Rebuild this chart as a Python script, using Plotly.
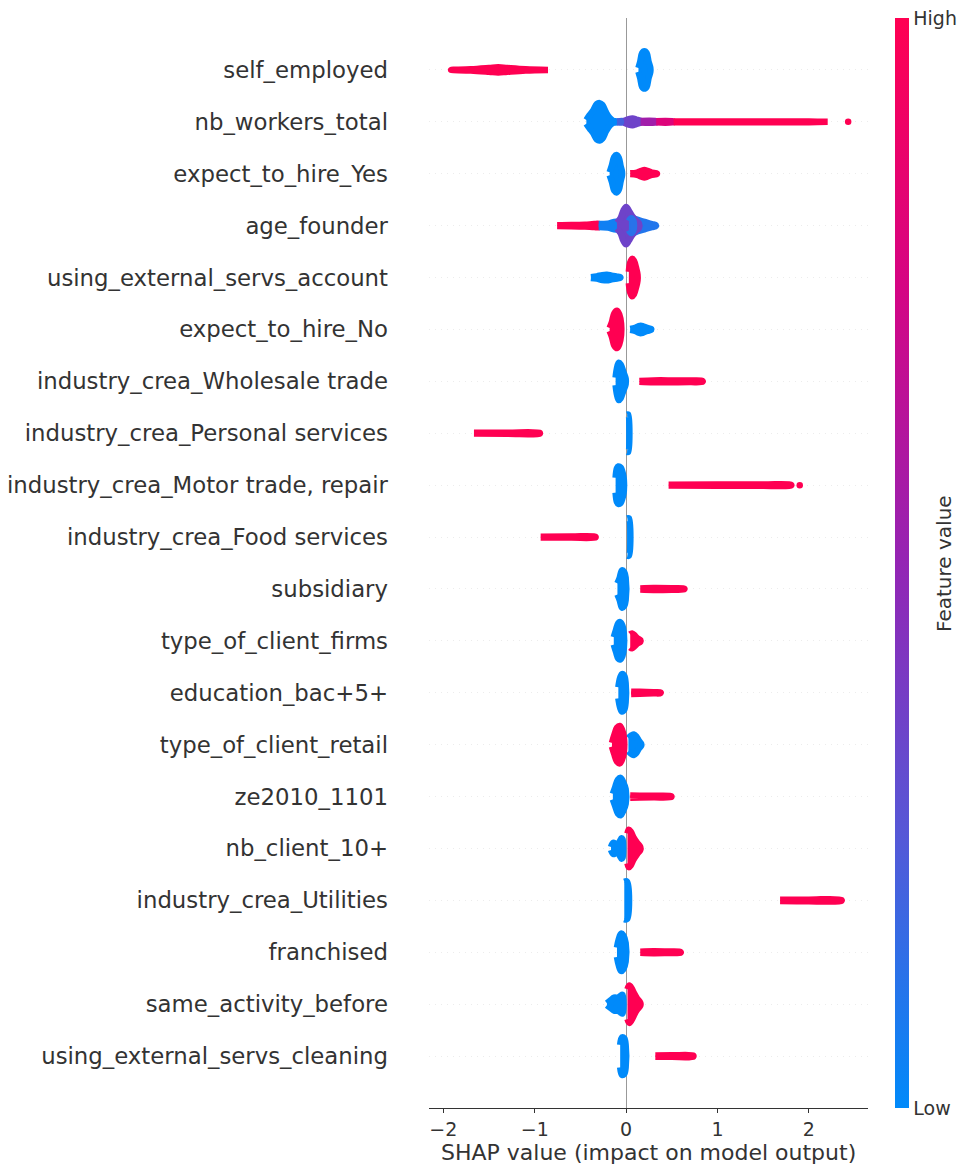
import plotly.graph_objects as go

# Features from most to least important (top to bottom)
FEATURES = [
    "self_employed",
    "nb_workers_total",
    "expect_to_hire_Yes",
    "age_founder",
    "using_external_servs_account",
    "expect_to_hire_No",
    "industry_crea_Wholesale trade",
    "industry_crea_Personal services",
    "industry_crea_Motor trade, repair",
    "industry_crea_Food services",
    "subsidiary",
    "type_of_client_firms",
    "education_bac+5+",
    "type_of_client_retail",
    "ze2010_1101",
    "nb_client_10+",
    "industry_crea_Utilities",
    "franchised",
    "same_activity_before",
    "using_external_servs_cleaning",
]

# Each group of samples: (feature value 0=low..1=high, SHAP values, relative density of samples)
SELF_EMPLOYED = [
    (1.0, [-1.915, -1.7, -1.5, -1.4, -1.3, -1.1, -0.855], [0, 0.03, 0.10, 0.14, 0.10, 0.03, 0]),
    (0.0, [0.135, 0.155, 0.175, 0.20, 0.225, 0.245, 0.265], [0.1, 0.45, 0.9, 1.0, 0.9, 0.45, 0.1]),
]
NB_WORKERS_TOTAL = [
    (0.0, [-0.435, -0.40, -0.36, -0.32, -0.29, -0.26, -0.22, -0.18, -0.14, -0.10],
          [0.1, 0.35, 0.6, 0.95, 1.0, 0.9, 0.5, 0.2, 0.05, 0.02]),
    (0.2, [-0.10, -0.02], [0.02, 0.03]),
    (0.35, [-0.02, 0.03, 0.07, 0.11, 0.16], [0.05, 0.15, 0.18, 0.12, 0.04]),
    (0.55, [0.16, 0.33], [0.04, 0.03]),
    (0.8, [0.33, 0.52], [0.03, 0.02]),
    (1.0, [0.52, 1.0, 1.5, 2.0, 2.205], [0.02, 0.02, 0.02, 0.02, 0]),
]
EXPECT_TO_HIRE_YES = [
    (0.0, [-0.18, -0.155, -0.13, -0.105, -0.08, -0.06, -0.045], [0.08, 0.45, 0.9, 1.0, 0.85, 0.4, 0.1]),
    (1.0, [0.045, 0.12, 0.17, 0.20, 0.23, 0.28, 0.335], [0.02, 0.06, 0.16, 0.2, 0.16, 0.06, 0.02]),
]
AGE_FOUNDER = [
    (1.0, [-0.755, -0.6, -0.45, -0.35, -0.3], [0.02, 0.03, 0.05, 0.08, 0.08]),
    (0.05, [-0.3, -0.2, -0.1], [0.08, 0.1, 0.2]),
    (0.1, [0.0, 0.1, 0.2, 0.28, 0.325], [0.6, 0.35, 0.2, 0.08, 0.02]),
    (0.35, [-0.1, -0.06, -0.03, 0.0, 0.03, 0.06, 0.1, 0.14], [0.15, 0.4, 0.8, 1.0, 0.8, 0.55, 0.3, 0.12]),
    (0.12, [0.03, 0.055, 0.08], [0.25, 0.4, 0.25]),
]
USING_EXTERNAL_SERVS_ACCOUNT = [
    (0.0, [-0.385, -0.32, -0.26, -0.21, -0.16, -0.1, -0.065], [0.02, 0.06, 0.13, 0.15, 0.1, 0.05, 0.02]),
    (1.0, [0.03, 0.045, 0.065, 0.085, 0.11, 0.125], [0.3, 0.8, 1.0, 0.9, 0.5, 0.15]),
]
EXPECT_TO_HIRE_NO = [
    (1.0, [-0.18, -0.155, -0.13, -0.1, -0.075, -0.055], [0.08, 0.4, 0.85, 1.0, 0.8, 0.3]),
    (0.0, [0.045, 0.1, 0.14, 0.16, 0.18, 0.23, 0.275], [0.02, 0.08, 0.18, 0.2, 0.18, 0.08, 0.02]),
]
WHOLESALE_TRADE = [
    (0.0, [-0.115, -0.1, -0.08, -0.06, -0.03, -0.005], [0.2, 0.7, 1.0, 0.9, 0.5, 0.15]),
    (1.0, [0.145, 0.3, 0.5, 0.7, 0.835], [0.02, 0.05, 0.05, 0.04, 0.02]),
]
PERSONAL_SERVICES = [
    (1.0, [-1.665, -1.3, -0.945], [0.02, 0.03, 0.02]),
    (0.0, [0.012, 0.022], [1.0, 1.0]),
]
MOTOR_TRADE = [
    (0.0, [-0.115, -0.1, -0.085, -0.06, -0.035, -0.025], [0.4, 0.9, 1.0, 0.95, 0.6, 0.3]),
    (1.0, [0.465, 1.0, 1.5, 1.805], [0.02, 0.03, 0.03, 0.02]),
]
FOOD_SERVICES = [
    (1.0, [-0.935, -0.6, -0.335], [0.02, 0.03, 0.02]),
    (0.0, [0.015, 0.03], [1.0, 1.0]),
]
SUBSIDIARY = [
    (0.0, [-0.095, -0.07, -0.045, -0.02, -0.005], [0.3, 0.6, 1.0, 0.9, 0.6]),
    (1.0, [0.155, 0.3, 0.5, 0.635], [0.03, 0.05, 0.04, 0.02]),
]
TYPE_OF_CLIENT_FIRMS = [
    (0.0, [-0.135, -0.11, -0.085, -0.065, -0.04, -0.025], [0.2, 0.6, 0.95, 1.0, 0.8, 0.4]),
    (1.0, [0.045, 0.065, 0.09, 0.12, 0.155], [0.35, 0.4, 0.3, 0.15, 0.05]),
]
EDUCATION_BAC5 = [
    (0.0, [-0.085, -0.065, -0.045, -0.02, -0.005], [0.3, 0.8, 1.0, 0.9, 0.5]),
    (1.0, [0.055, 0.15, 0.3, 0.375], [0.06, 0.05, 0.03, 0.02]),
]
TYPE_OF_CLIENT_RETAIL = [
    (0.0, [0.025, 0.06, 0.085, 0.11, 0.14, 0.165], [0.35, 0.5, 0.55, 0.45, 0.2, 0.05]),
    (1.0, [-0.155, -0.13, -0.1, -0.07, -0.045, -0.025], [0.1, 0.5, 0.9, 1.0, 0.8, 0.4]),
]
ZE2010_1101 = [
    (0.0, [-0.145, -0.12, -0.09, -0.06, -0.035, -0.005], [0.15, 0.5, 0.9, 1.0, 0.8, 0.4]),
    (1.0, [0.045, 0.15, 0.3, 0.495], [0.06, 0.05, 0.04, 0.02]),
]
NB_CLIENT_10 = [
    (0.0, [-0.165, -0.14, -0.11, -0.08, -0.05, -0.04], [0.08, 0.3, 0.25, 0.3, 0.55, 0.5]),
    (1.0, [0.015, 0.03, 0.05, 0.08, 0.12, 0.155], [0.8, 1.0, 0.9, 0.6, 0.3, 0.08]),
]
UTILITIES = [
    (0.0, [-0.02, 0.01], [1.0, 1.0]),
    (1.0, [1.685, 2.0, 2.355], [0.03, 0.04, 0.03]),
]
FRANCHISED = [
    (0.0, [-0.1, -0.08, -0.055, -0.03, -0.005], [0.25, 0.7, 1.0, 0.9, 0.5]),
    (1.0, [0.155, 0.3, 0.45, 0.595], [0.03, 0.05, 0.04, 0.02]),
]
SAME_ACTIVITY_BEFORE = [
    (0.0, [-0.21, -0.17, -0.13, -0.09, -0.06, -0.04], [0.05, 0.2, 0.35, 0.35, 0.45, 0.5]),
    (1.0, [0.015, 0.035, 0.06, 0.09, 0.12, 0.155], [0.8, 1.0, 0.85, 0.55, 0.3, 0.08]),
]
USING_EXTERNAL_SERVS_CLEANING = [
    (0.0, [-0.065, -0.045, -0.02, -0.005], [0.6, 1.0, 0.95, 0.6]),
    (1.0, [0.32, 0.5, 0.735], [0.03, 0.04, 0.03]),
]

GROUPS = [
    SELF_EMPLOYED, NB_WORKERS_TOTAL, EXPECT_TO_HIRE_YES, AGE_FOUNDER,
    USING_EXTERNAL_SERVS_ACCOUNT, EXPECT_TO_HIRE_NO, WHOLESALE_TRADE,
    PERSONAL_SERVICES, MOTOR_TRADE, FOOD_SERVICES, SUBSIDIARY,
    TYPE_OF_CLIENT_FIRMS, EDUCATION_BAC5, TYPE_OF_CLIENT_RETAIL, ZE2010_1101,
    NB_CLIENT_10, UTILITIES, FRANCHISED, SAME_ACTIVITY_BEFORE,
    USING_EXTERNAL_SERVS_CLEANING,
]

# Isolated outlier samples
OUTLIER_SHAP = [2.43, 1.90]
OUTLIER_FEATURE = ["nb_workers_total", "industry_crea_Motor trade, repair"]
OUTLIER_VALUE = [1.0, 1.0]

# Red-blue feature value colormap
COLORSCALE = [
    [0.0, "rgb(0,138,250)"],
    [0.25, "rgb(85,88,215)"],
    [0.5, "rgb(148,36,180)"],
    [0.75, "rgb(212,5,132)"],
    [1.0, "rgb(255,0,82)"],
]


def colour_at(v):
    stops = [(p, tuple(int(c) for c in s[4:-1].split(","))) for p, s in COLORSCALE]
    for (p0, c0), (p1, c1) in zip(stops[:-1], stops[1:]):
        if p0 <= v <= p1:
            t = (v - p0) / (p1 - p0)
            r, g, b = (round(a + (b_ - a) * t) for a, b_ in zip(c0, c1))
            return f"rgb({r},{g},{b})"
    return COLORSCALE[-1][1]


n = len(FEATURES)
row_of = {f: n - 1 - i for i, f in enumerate(FEATURES)}
HALF = 0.36    # max half-height of a swarm, in row units
DOT = 6.5      # sample marker diameter in px

fig = go.Figure()
for feat, groups in zip(FEATURES, GROUPS):
    pos = row_of[feat]
    for fval, xs, dens in groups:
        col = colour_at(fval)
        top = [pos + d * HALF for d in dens]
        bot = [pos - d * HALF for d in dens]
        fig.add_trace(go.Scatter(
            x=list(xs) + list(xs)[::-1],
            y=top + bot[::-1],
            mode="lines", fill="toself", fillcolor=col,
            line=dict(color=col, width=DOT, shape="spline", smoothing=1.0),
            hoverinfo="skip", showlegend=False,
        ))

fig.add_trace(go.Scatter(
    x=OUTLIER_SHAP,
    y=[row_of[f] for f in OUTLIER_FEATURE],
    mode="markers",
    marker=dict(
        size=DOT, color=OUTLIER_VALUE, colorscale=COLORSCALE, cmin=0, cmax=1,
        showscale=True,
        colorbar=dict(
            x=1.0615, xanchor="left", y=0.5, yanchor="middle",
            len=1, lenmode="fraction", thickness=14,
            xpad=0, ypad=0, outlinewidth=0,
            tickvals=[0, 1], ticktext=["Low", "High"], ticks="",
            tickfont=dict(family="DejaVu Sans", size=19, color="#333333"),
        ),
    ),
    hoverinfo="skip", showlegend=False,
))

font = "DejaVu Sans"
fig.update_layout(
    width=979, height=1166,
    margin=dict(l=429, r=111, t=18, b=58),
    plot_bgcolor="white", paper_bgcolor="white",
    font=dict(family=font, color="#333333"),
    xaxis=dict(
        range=[-2.157, 2.647],
        tickvals=[-2, -1, 0, 1, 2],
        ticks="outside", ticklen=4, tickcolor="#333333",
        showline=True, linecolor="#333333", linewidth=1,
        showgrid=False,
        zeroline=True, zerolinecolor="#999999", zerolinewidth=1,
        tickfont=dict(family=font, size=19, color="#333333"),
        automargin=False,
    ),
    yaxis=dict(
        range=[-1, n],
        tickvals=[row_of[f] for f in FEATURES],
        ticktext=FEATURES,
        ticks="", showline=False,
        ticklabelstandoff=40,
        showgrid=True, gridcolor="#ececec", gridwidth=1, griddash="1px,5px",
        zeroline=False,
        tickfont=dict(family=font, size=22.8, color="#333333"),
        automargin=False,
    ),
    annotations=[
        dict(text="SHAP value (impact on model output)", xref="paper", yref="paper",
             x=0.5, y=-0.041, xanchor="center", yanchor="middle", showarrow=False,
             font=dict(family=font, size=22, color="#333333")),
        dict(text="Feature value", xref="paper", yref="paper",
             x=1.173, y=0.5, xanchor="center", yanchor="middle", showarrow=False,
             textangle=-90, font=dict(family=font, size=20, color="#333333")),
    ],
)

fig.write_html("out.html")
